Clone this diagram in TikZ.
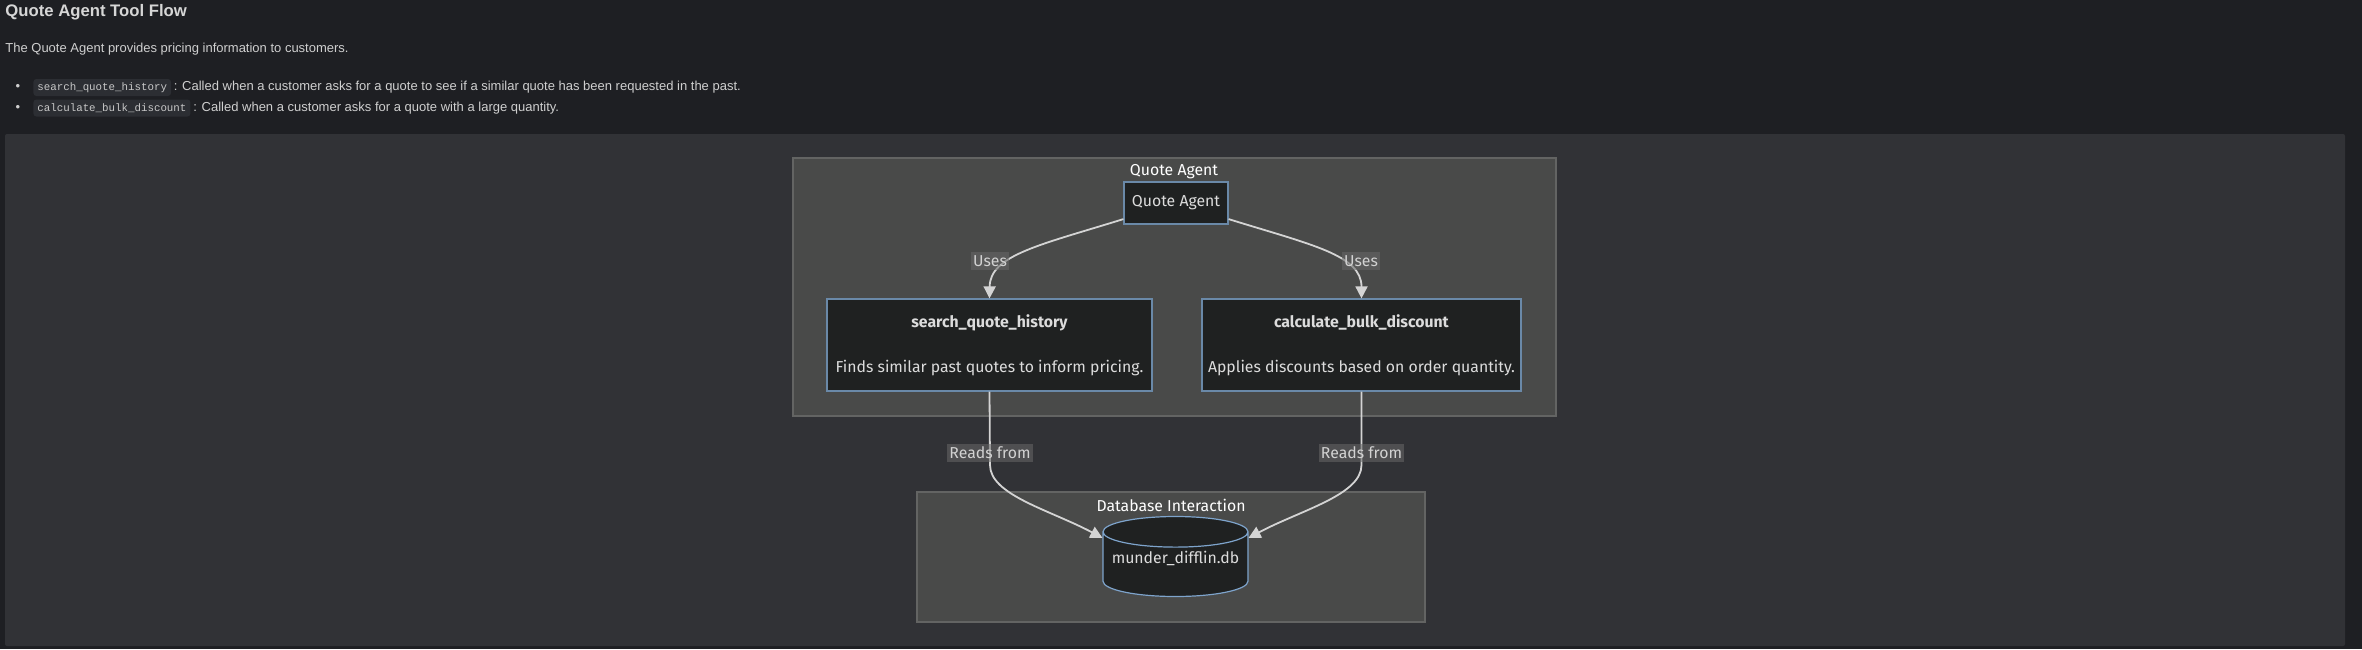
\documentclass[tikz,border=0pt]{standalone}
\usepackage{fontspec}
\setmainfont{Liberation Sans}
\setmonofont{Liberation Mono}
\newfontfamily\diagfont{Fira Sans}
\usetikzlibrary{arrows.meta,shapes.geometric}
\definecolor{pagebg}{HTML}{1E1F23}
\definecolor{panelbg}{HTML}{313236}
\definecolor{groupfill}{HTML}{494A49}
\definecolor{groupline}{HTML}{636463}
\definecolor{nodefill}{HTML}{1F2121}
\definecolor{nodeline}{HTML}{6A89A8}
\definecolor{dbline}{HTML}{7EA4CC}
\definecolor{nodetext}{HTML}{DCDCDC}
\definecolor{edgegray}{HTML}{D4D4D4}
\definecolor{labelgray}{HTML}{686868}
\definecolor{edgetext}{HTML}{D2D2D2}
\definecolor{titletext}{HTML}{D6D6D6}
\definecolor{bodytext}{HTML}{CFCFCF}
\definecolor{chipbg}{HTML}{2C2E33}
\definecolor{chiptext}{HTML}{C8C8C8}

\begin{document}
\begin{tikzpicture}[x=0.5pt,y=-0.5pt,
  box/.style={draw=nodeline,line width=0.6pt,fill=nodefill,text=nodetext,inner sep=0pt,
    font=\diagfont\fontsize{7.9}{9.4}\selectfont},
  group/.style={draw=groupline,line width=0.6pt,fill=groupfill},
  grouptitle/.style={text=white,inner sep=0pt,font=\diagfont\fontsize{7.9}{9.4}\selectfont},
  flow/.style={draw=edgegray,line width=0.9pt,-{Triangle[length=6pt,width=6pt]}},
  edgelabel/.style={fill=labelgray,fill opacity=0.55,text opacity=1,text=edgetext,
    inner xsep=1pt,inner ysep=1.5pt,font=\diagfont\fontsize{7.9}{9.4}\selectfont},
  chip/.style={fill=chipbg,rounded corners=1.5pt,text=chiptext,inner xsep=2pt,inner ysep=0pt,
    minimum height=8.5pt,font=\ttfamily\fontsize{5.4}{6}\selectfont},
  body/.style={text=bodytext,inner sep=0pt,font=\fontsize{6.5}{8}\selectfont}]
  \fill[pagebg] (0,0) rectangle (2362,649);
  \useasboundingbox (0,0) rectangle (2362,649);
  \fill[panelbg,rounded corners=1pt] (5,134) rectangle (2345,646);

  \node[anchor=west,inner sep=0pt,text=titletext,font=\bfseries\fontsize{8.35}{10}\selectfont] (title) at (5,12) {Quote Agent Tool Flow};
  \node[body,anchor=west] (intro) at (5,49) {The Quote Agent provides pricing information to customers.};
  \node[body] (dot1) at (18,87) {\textbullet};
  \node[body] (dot2) at (18,108) {\textbullet};
  \node[chip,anchor=west] (chip1) at (33,87.5) {search\_quote\_history};
  \node[chip,anchor=west] (chip2) at (33,108) {calculate\_bulk\_discount};
  \node[body,anchor=base west] (use1) at ([xshift=1pt]chip1.base east) {: Called when a customer asks for a quote to see if a similar quote has been requested in the past.};
  \node[body,anchor=base west] (use2) at ([xshift=1pt]chip2.base east) {: Called when a customer asks for a quote with a large quantity.};

  \draw[group] (793,158) rectangle (1556,416);
  \node[grouptitle] (agentgrp) at (1174,171.5) {Quote Agent};
  \draw[group] (917,492) rectangle (1425,622);
  \node[grouptitle] (dbgrp) at (1171,505) {Database Interaction};

  \coordinate (bendl) at (990,465);
  \coordinate (bendr) at (1361.5,465);
  \node[box,minimum width=52pt,minimum height=21pt] (agent) at (1176,203) {Quote Agent};
  \node[box,minimum width=162.5pt,minimum height=46pt,align=center] (search) at (989.5,345)
    {\textbf{search\_quote\_history}\\[13.2pt]Finds similar past quotes to inform pricing.};
  \node[box,minimum width=159.5pt,minimum height=46pt,align=center] (bulk) at (1361.5,345)
    {\textbf{calculate\_bulk\_discount}\\[13.2pt]Applies discounts based on order quantity.};
  \node[box,draw=dbline,shape=cylinder,shape border rotate=90,aspect=0.24,anchor=shape center,
    minimum width=72.5pt,minimum height=40pt] (db) at (1175.5,556.5) {\raisebox{3pt}[\height][\depth]{munder\_difflin.db}};

  \draw[flow] (agent.197) .. controls (1040,245) and (990,255) .. (search.north);
  \draw[flow] (agent.343) .. controls (1312,245) and (1361.5,255) .. (bulk.north);
  \draw[flow] (search.south) -- (bendl) .. controls (990,495) and (1050,510) .. (db.160);
  \draw[flow] (bulk.south) -- (bendr) .. controls (1361.5,495) and (1301,510) .. (db.20);

  \node[edgelabel] (uses1) at (990,261) {Uses};
  \node[edgelabel] (uses2) at (1361,261) {Uses};
  \node[edgelabel] (reads1) at (990,453) {Reads from};
  \node[edgelabel] (reads2) at (1361.5,453) {Reads from};
\end{tikzpicture}
\end{document}
